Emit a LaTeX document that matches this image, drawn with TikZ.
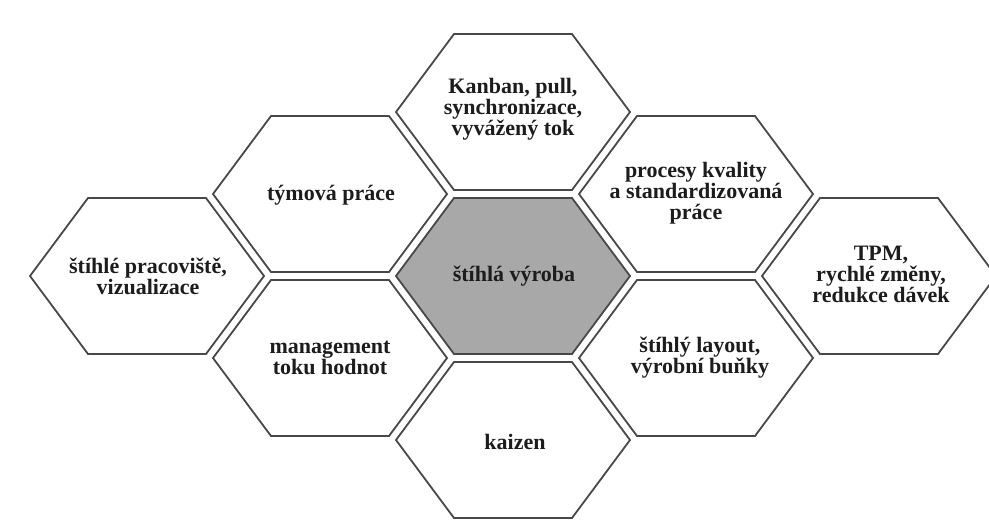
\documentclass[tikz,border=0pt]{standalone}
\usepackage{fontspec}
\setmainfont{Liberation Serif}
\definecolor{hexedge}{RGB}{72,72,72}
\definecolor{hexcore}{RGB}{168,168,168}
\definecolor{inktext}{RGB}{28,28,28}
\tikzset{
  hexline/.style={draw=hexedge, line width=1.8pt, line join=miter},
  hexcell/.pic={
    \path[hexline,#1] (-117,0) -- (-59,-78) -- (59,-78) -- (117,0)
      -- (59,78) -- (-59,78) -- cycle;
  },
  label/.style={text=inktext, align=center, inner sep=0pt,
    font=\fontsize{22}{21}\selectfont\bfseries},
}
\begin{document}
\begin{tikzpicture}[x=1pt, y=-1pt]
  \clip (0,0) rectangle (989,531);
  \fill[white] (0,0) rectangle (989,531);

  % honeycomb cells
  \pic at (513,112) {hexcell={fill=white}};
  \pic at (330,194) {hexcell={fill=white}};
  \pic at (696,194) {hexcell={fill=white}};
  \pic at (147,276) {hexcell={fill=white}};
  \pic at (513,276) {hexcell={fill=hexcore}};
  \pic at (879,276) {hexcell={fill=white}};
  \pic at (330,358) {hexcell={fill=white}};
  \pic at (696,358) {hexcell={fill=white}};
  \pic at (513,440) {hexcell={fill=white}};

  % cell captions
  \node[label] (kanban) at (513,109) {Kanban, pull,\\synchronizace,\\vyvážený tok};
  \node[label] (tym) at (331,195) {týmová práce};
  \node[label] (kvalita) at (696,193) {procesy kvality\\a standardizovaná\\práce};
  \node[label] (pracoviste) at (148,276) {štíhlé pracoviště,\\vizualizace};
  \node[label] (vyroba) at (514,276) {štíhlá výroba};
  \node[label] (tpm) at (881,274) {TPM,\\rychlé změny,\\redukce dávek};
  \node[label] (tok) at (330,358) {management\\toku hodnot};
  \node[label] (layout) at (700,358) {štíhlý layout,\\výrobní buňky};
  \node[label] (kaizen) at (515,442) {kaizen};
\end{tikzpicture}
\end{document}
